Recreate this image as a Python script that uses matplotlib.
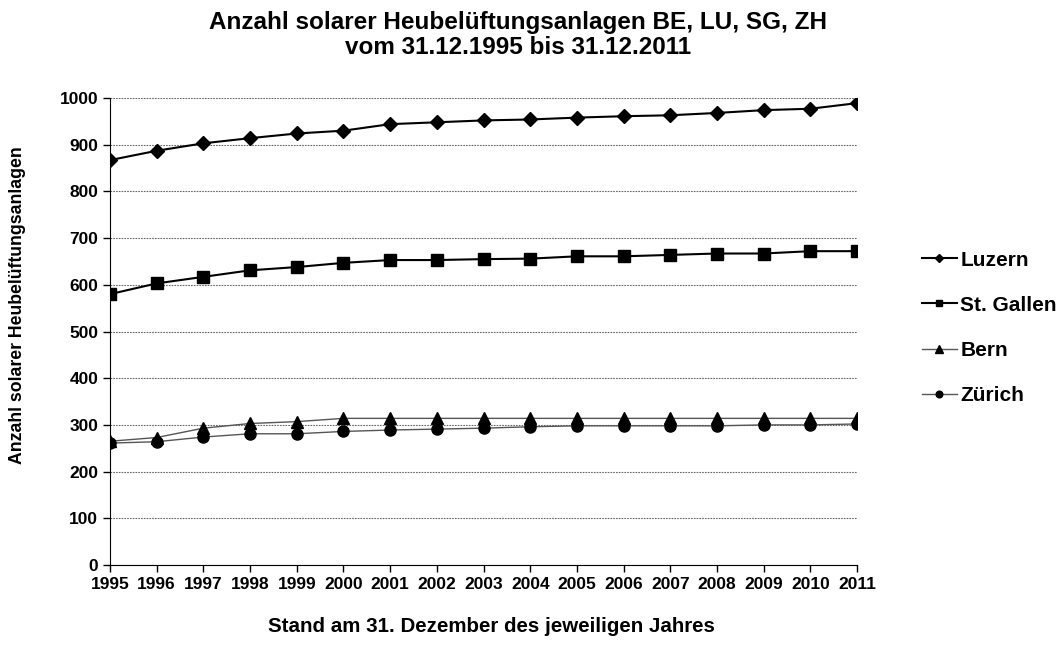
import matplotlib.pyplot as plt

plt.rcParams["font.family"] = ["Liberation Sans", "DejaVu Sans"]
plt.rcParams["font.weight"] = "bold"

years = list(range(1995, 2012))
luzern = [867, 887, 903, 914, 924, 930, 944, 948, 952, 954, 958, 961, 963, 968, 974, 977, 989]
st_gallen = [580, 603, 617, 631, 638, 647, 653, 653, 655, 656, 661, 661, 664, 667, 667, 672, 672]
bern = [265, 273, 293, 303, 307, 314, 314, 314, 314, 314, 314, 314, 314, 314, 314, 314, 314]
zuerich = [261, 264, 274, 281, 281, 286, 289, 291, 293, 296, 298, 298, 298, 298, 300, 300, 302]

fig = plt.figure(figsize=(10.61, 6.62), dpi=100)
ax = fig.add_axes([110 / 1061, 1 - 565 / 662, 747 / 1061, 467 / 662])

ax.plot(years, luzern, color="black", lw=1.5, marker="D", ms=7, label="Luzern")
ax.plot(years, st_gallen, color="black", lw=1.5, marker="s", ms=8, label="St. Gallen")
ax.plot(years, bern, color="#555555", lw=1.0, marker="^", ms=9,
        mfc="black", mec="black", label="Bern")
ax.plot(years, zuerich, color="#555555", lw=1.0, marker="o", ms=8,
        mfc="black", mec="black", label="Zürich")

ax.set_xlim(1995, 2011)
ax.set_ylim(0, 1000)
ax.set_xticks(years)
ax.set_yticks(range(0, 1001, 100))
ax.tick_params(labelsize=12.5, direction="out", length=5, width=1, colors="black")
for lab in ax.get_xticklabels() + ax.get_yticklabels():
    lab.set_fontweight("bold")
ax.grid(axis="y", linestyle=(0, (1.5, 1)), color="#666666", lw=0.8)
ax.set_axisbelow(True)
for s in ["top", "right"]:
    ax.spines[s].set_visible(False)

fig.text(0.488, 1 - 11 / 662, "Anzahl solarer Heubelüftungsanlagen BE, LU, SG, ZH\nvom 31.12.1995 bis 31.12.2011",
         ha="center", va="top", fontsize=17.5, fontweight="bold", linespacing=1.1)
fig.text(18 / 1061, 1 - 305 / 662, "Anzahl solarer Heubelüftungsanlagen",
         rotation=90, ha="center", va="center", fontsize=12.7, fontweight="bold")
fig.text(491 / 1061, 1 - 627 / 662, "Stand am 31. Dezember des jeweiligen Jahres",
         ha="center", va="center", fontsize=14.8, fontweight="bold")

leg = fig.legend(loc="upper left", bbox_to_anchor=(903 / 1061, 1 - 232 / 662),
                 frameon=False, fontsize=15, markerscale=0.6, handlelength=1.7,
                 handletextpad=0.15, labelspacing=1.25)
for t in leg.get_texts():
    t.set_fontweight("bold")

plt.savefig("out.png", dpi=100)
